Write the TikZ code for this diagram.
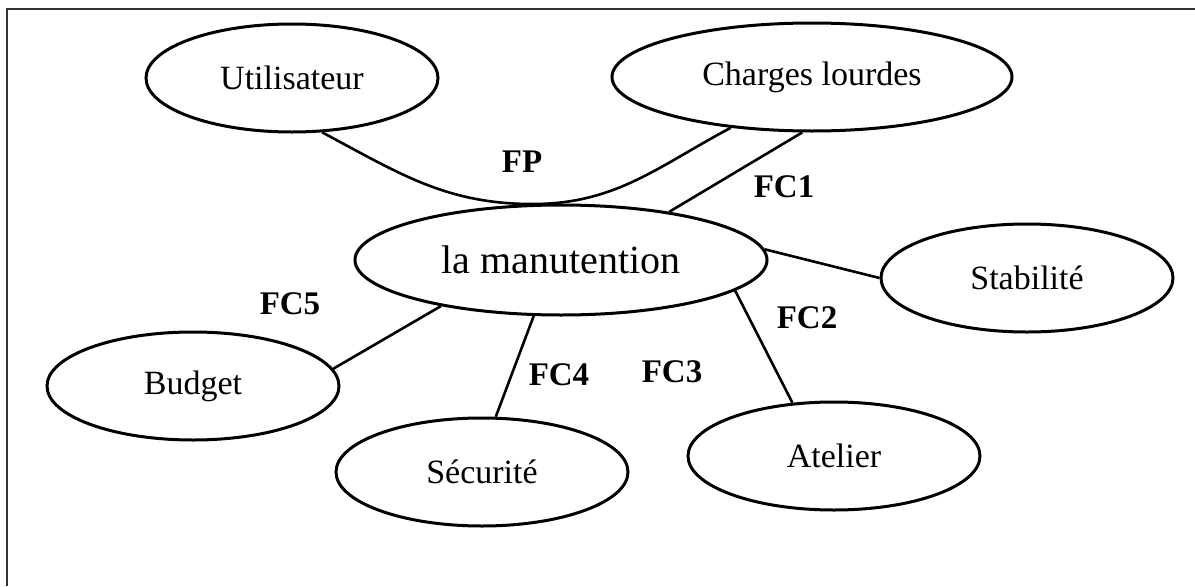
\documentclass[tikz,border=0pt]{standalone}
\usepackage{fontspec}
\setmainfont{Liberation Serif}
\usetikzlibrary{shapes.geometric}
\tikzset{
  bloc/.style={draw, ellipse, line width=1.5pt, inner sep=0pt,
    minimum width=146pt, minimum height=54pt,
    font=\fontsize{17}{20}\selectfont},
  fc/.style={inner sep=0pt, font=\fontsize{16.5}{19}\selectfont\bfseries},
  lien/.style={line width=1.3pt},
}
\begin{document}
\begin{tikzpicture}[x=0.5pt, y=0.5pt]
    \useasboundingbox (0,0) rectangle (1195,586);
    \draw[line width=1pt, black!80] (1195,577) -- (7,577) -- (7,0);
    \node[bloc] (uti) at (292,508) {Utilisateur};
    \node[bloc, minimum width=200pt] (chg) at (812,509) {Charges lourdes};
    \node[bloc, minimum width=206pt, minimum height=55pt,
      font=\fontsize{20}{24}\selectfont] (man) at (561,326) {la manutention};
    \node[bloc] (sta) at (1027,308) {Stabilité};
    \node[bloc] (bud) at (193,200) {Budget};
    \node[bloc] (sec) at (482,114) {Sécurité};
    \node[bloc] (atl) at (834,130) {Atelier};
    \node[fc] (fp)  at (522,424) {FP};
    \node[fc] (fc1) at (784,399) {FC1};
    \node[fc] (fc2) at (807,268) {FC2};
    \node[fc] (fc3) at (672,214) {FC3};
    \node[fc] (fc4) at (559,211) {FC4};
    \node[fc] (fc5) at (290,282) {FC5};
    \draw[lien] (uti.-61) to[out=-28,in=180] (man.117) to[out=0,in=-152] (chg.212);
    \draw[lien] (man.24) -- (chg.-100);
    \draw[lien] (man.3) -- (sta.west);
    \draw[lien] (man.-10) -- (atl.128);
    \draw[lien] (man.-116) -- (sec.76);
    \draw[lien] (man.-159) -- (bud.7);
\end{tikzpicture}
\end{document}
